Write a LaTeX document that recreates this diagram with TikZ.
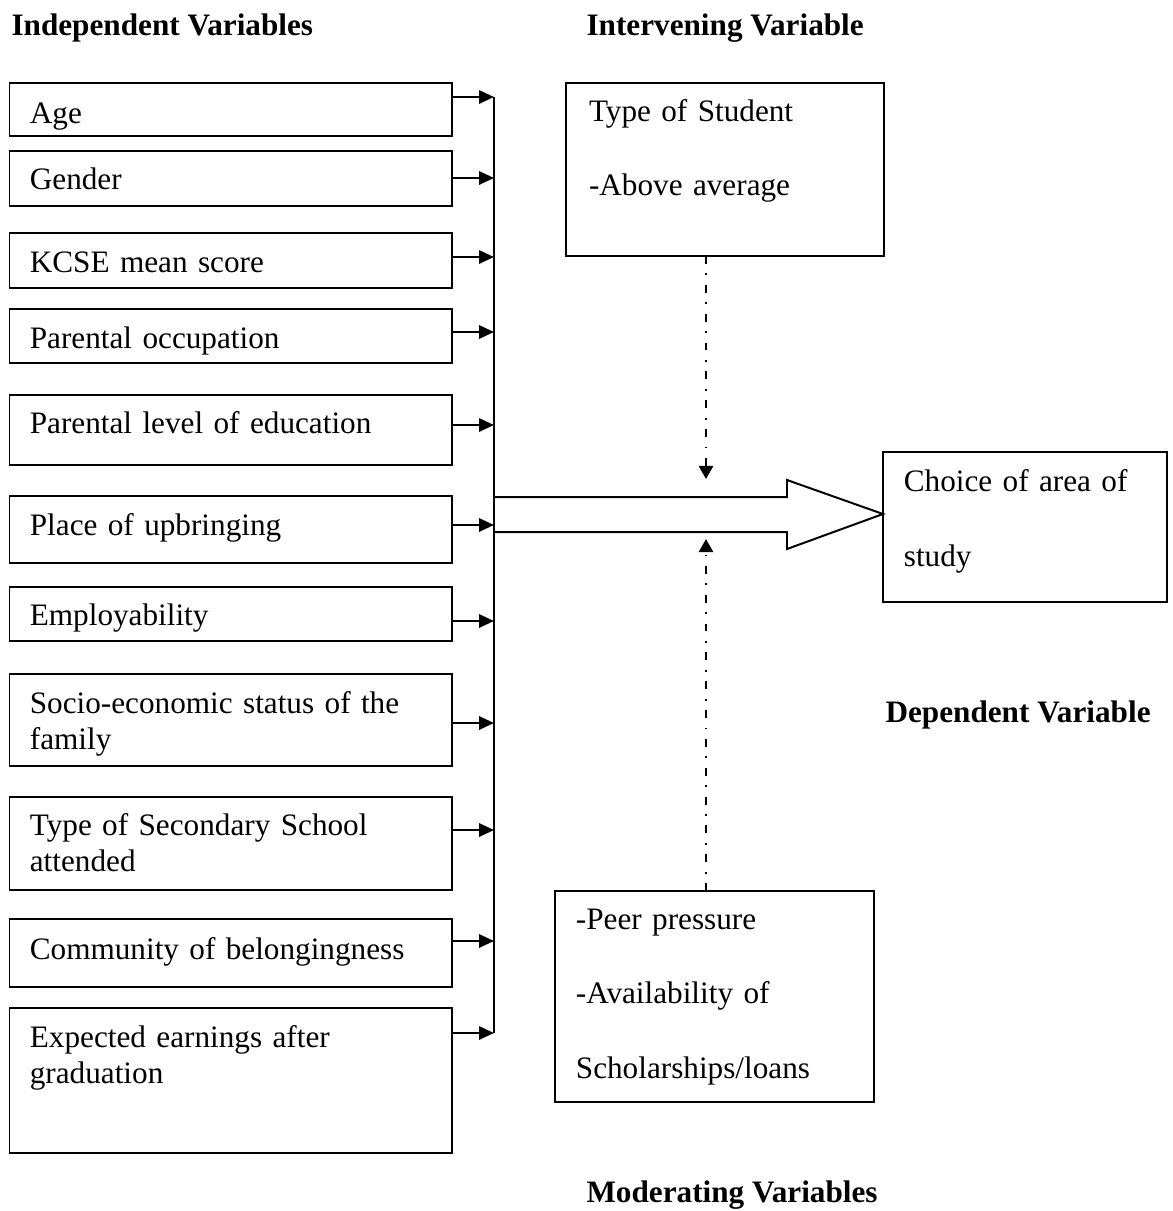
\documentclass[tikz,border=0pt]{standalone}
\usepackage{fontspec}
\setmainfont{Liberation Serif}
\usetikzlibrary{arrows.meta,positioning,calc}

\begin{document}
\begin{tikzpicture}[x=0.378pt,y=-0.378pt,
  font=\fontsize{11.8pt}{13.8pt}\selectfont,
  varbox/.style={draw,line width=0.6pt,anchor=north west,inner ysep=0pt,outer sep=0pt,align=left},
  dblspace/.style={font=\fontsize{11.8pt}{28pt}\selectfont},
  head/.style={font=\fontsize{11.8pt}{13.8pt}\selectfont\bfseries,anchor=base west,inner sep=0pt},
  feed/.style={line width=0.75pt,-{Triangle[length=5.6pt,width=5pt]}},
  modline/.style={line width=0.9pt,dash pattern=on 3pt off 3.6pt on 0.7pt off 3.6pt,-{Triangle[length=5pt,width=5.4pt]}}]
  \useasboundingbox (0,0) rectangle (1173,1211);

  % headings
  \node[head] (h-ind) at (11,35) {Independent Variables};
  \node[head] (h-int) at (586,35) {Intervening Variable};
  \node[head] (h-dep) at (885,722) {Dependent Variable};
  \node[head] (h-mod) at (586,1202) {Moderating Variables};

  % independent variables: name/top/bottom/baseline/arrow y/text
  \foreach \nm/\tp/\bt/\bl/\ay/\txt in {
    age/83/136/123/97/Age,
    gen/151/206/189/178/Gender,
    kcse/233/288/272/257/KCSE mean score,
    pocc/309/363/348/332/Parental occupation,
    pedu/395/465/433/425/Parental level of education,
    upb/496/563/535/525/Place of upbringing,
    emp/587/641/625/621/Employability,
    ses/674/766/713/723/{Socio-economic status of the\\family},
    sch/797/890/835/830/{Type of Secondary School\\attended},
    com/919/987/959/941/Community of belongingness,
    earn/1008/1153/1047/1033/{Expected earnings after\\graduation}}{
    \pgfmathsetmacro{\hgt}{(\bl-\tp)*0.378}
    \pgfmathsetmacro{\dpt}{(\bt-\bl)*0.378}
    \node[varbox,text width=151.9pt,inner xsep=7.7pt,text height=\hgt pt,text depth=\dpt pt] (\nm) at (9.5,\tp) {\txt};
    \coordinate (bus-\nm) at (494,\ay);
    \draw[feed] (\nm.east |- bus-\nm) -- (bus-\nm);
  }
  \draw[line width=0.75pt] (bus-age) -- (bus-earn);

  % intervening, dependent and moderating variables
  \node[varbox,dblspace,text width=102.8pt,inner xsep=8.7pt,text height=14.7pt,text depth=50.7pt] (int) at (566,83) {Type of Student\\-Above average};
  \node[varbox,dblspace,text width=91.5pt,inner xsep=7.9pt,text height=15.1pt,text depth=41.6pt] (dep) at (883,452) {Choice of area of\\study};
  \node[varbox,dblspace,text width=104.7pt,inner xsep=7.9pt,text height=14.7pt,text depth=65pt] (mod) at (555,891) {-Peer pressure\\-Availability of\\Scholarships/loans};

  % block arrow into the dependent variable
  \coordinate (tip) at (dep.west |- 0,514);
  \draw[line width=0.75pt] (494,497) -- (787,497) -- (787,480) -- (tip) -- (787,549) -- (787,532) -- (494,532);

  % dash-dot influences
  \coordinate (int-in) at (706,479);
  \coordinate (mod-in) at (706,539);
  \draw[modline] (int.south -| int-in) -- (int-in);
  \draw[modline] (mod.north -| mod-in) -- (mod-in);
\end{tikzpicture}
\end{document}
